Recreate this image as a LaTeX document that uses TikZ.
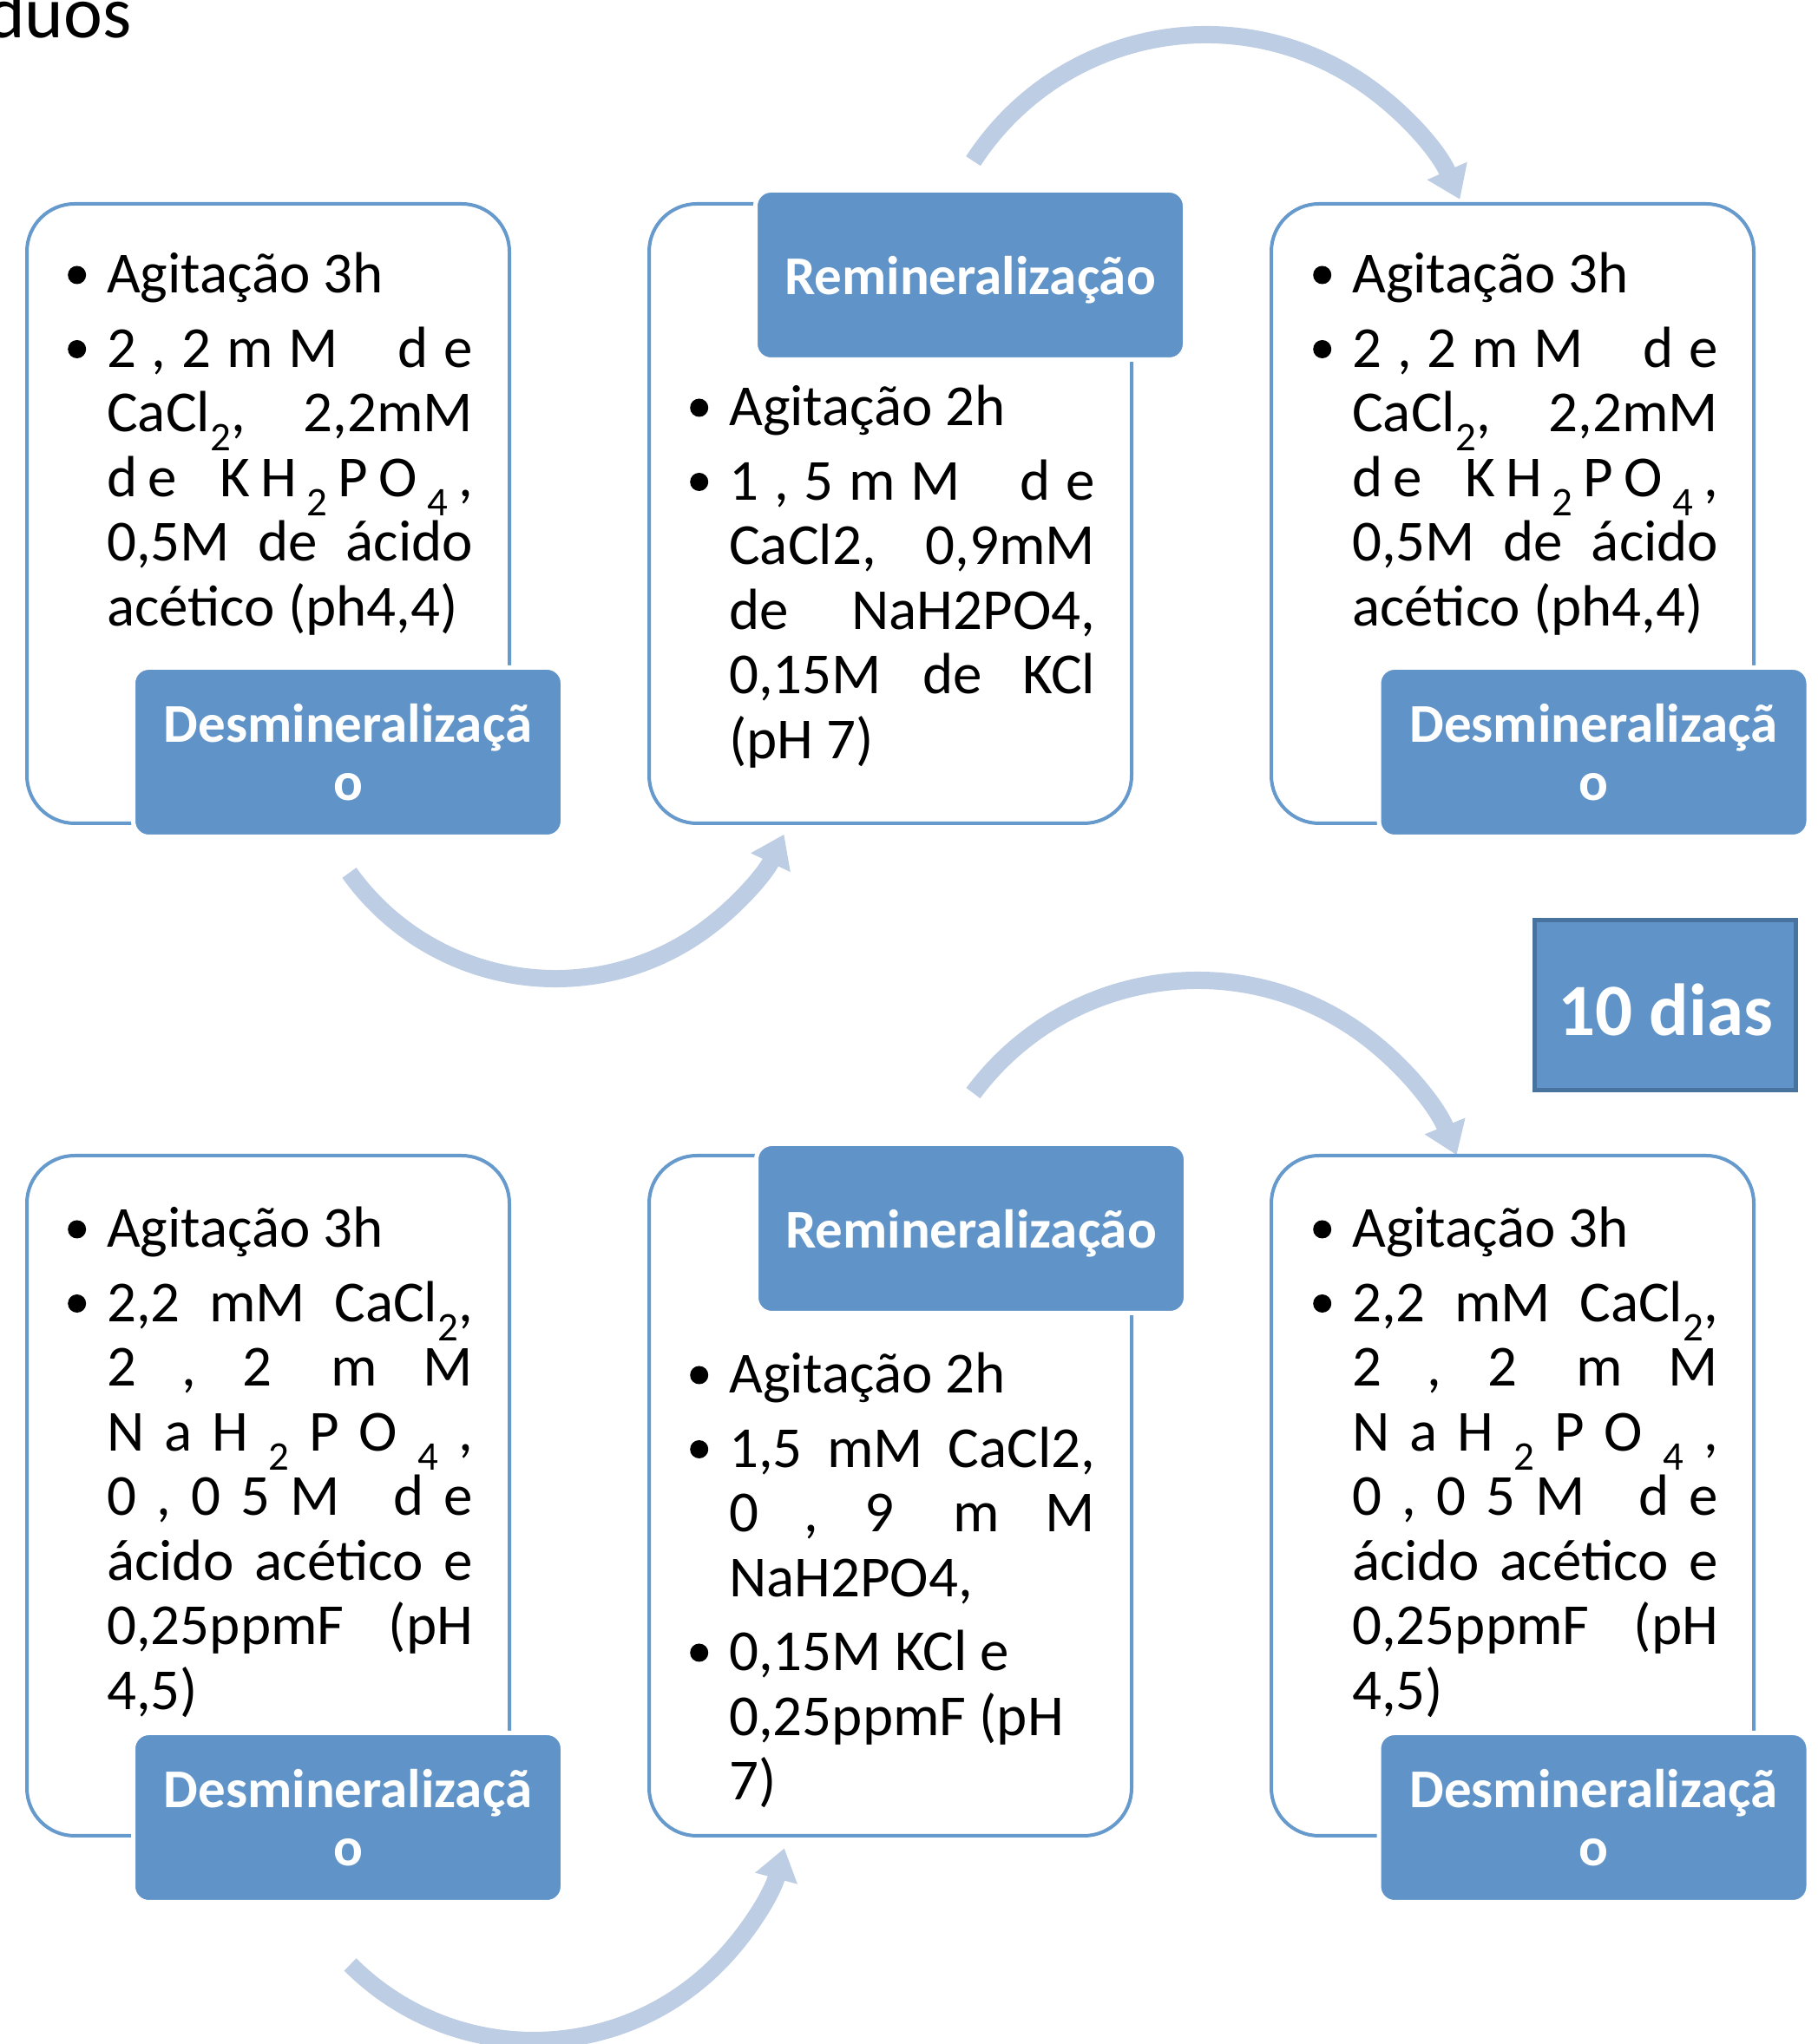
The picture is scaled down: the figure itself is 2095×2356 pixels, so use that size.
\documentclass[tikz,border=0pt]{standalone}
\usepackage{fontspec}
\setmainfont{Carlito}
\usetikzlibrary{arrows.meta}

\definecolor{panelline}{HTML}{6699CC}
\definecolor{tagfill}{HTML}{6094C9}
\definecolor{loopblue}{HTML}{BDCDE3}
\definecolor{daysline}{HTML}{48739F}

% bullet, indent and justified lines
\newcommand{\bul}{\makebox[38pt][l]{\hspace*{-7pt}\raisebox{10.5pt}{\tikz\fill[black] (0,0) circle[radius=10.5pt];}}}
\newcommand{\ind}{\hspace*{38pt}}
\newcommand{\jl}[1]{\makebox[422pt][s]{\frenchspacing\spaceskip=.226em plus 1fil minus .1em\relax #1}}
\newcommand{\chs}{\hfill}
\newcommand{\wds}[1]{\hspace{0pt plus #1fill}\ }

\begin{document}
\begin{tikzpicture}[x=1pt,y=1pt,
  panel/.style={draw=panelline, line width=4pt, fill=white, rounded corners=55pt,
    minimum width=556pt, inner sep=0pt},
  tag/.style={fill=tagfill, draw=white, line width=5pt, rounded corners=18pt,
    minimum width=495pt, minimum height=195pt, inner sep=0pt, text=white,
    font=\bfseries\fontsize{63}{67}\selectfont, align=center},
  remtag/.style={tag, text height=46pt, text depth=0pt},
  body/.style={anchor=base west, inner sep=0pt, text width=470pt, align=flush left,
    font=\fontsize{67}{74.5}\selectfont},
  loop/.style={draw=loopblue, line width=20pt, -{Triangle[width=48pt,length=36pt]}}]
\useasboundingbox (0,0) rectangle (2095,2356);

% title cut at the corner
\node[anchor=base west, inner sep=0pt, font=\fontsize{85}{95}\selectfont] (title) at (-16,2312) {duos};

% the curved arrows
\coordinate (loop1) at (1121.6,2170.3);
\coordinate (loop2) at (402.5,1350);
\coordinate (loop3) at (1121.5,1096);
\coordinate (loop4) at (403.6,91.6);
\draw[loop] (loop1) arc[start angle=147, end angle=24, radius=320];
\draw[loop] (loop2) arc[start angle=215.6, end angle=334.5, radius=292];
\draw[loop] (loop3) arc[start angle=143.4, end angle=22, radius=322];
\draw[loop] (loop4) arc[start angle=225, end angle=345, radius=299];

% top row
\node[panel, minimum height=714pt] (panelA) at (309,1764) {};
\node[panel, minimum height=714pt] (panelB) at (1026,1764) {};
\node[panel, minimum height=714pt] (panelC) at (1743,1764) {};
\node[tag] (tagA) at (401,1489) {Desmineralizaçã\\o};
\node[remtag] (tagB) at (1118,2039) {Remineralização};
\node[tag] (tagC) at (1836.5,1489) {Desmineralizaçã\\o};

\node[body] (txtA) at (85,2018) {\bul Agitação 3h\\[11pt]
\bul\jl{2\chs,\chs2\chs m\chs M\wds{3}d\chs e}\\
\ind\jl{CaCl\textsubscript{2}, 2,2mM}\\
\ind\jl{d\chs e\wds{3}K\chs H\chs\textsubscript{2}\chs P\chs O\chs\textsubscript{4}\chs,}\\
\ind\jl{0,5M de ácido}\\
\ind acético (ph4,4)};

\node[body] (txtB) at (802,1865) {\bul Agitação 2h\\[11pt]
\bul\jl{1\chs,\chs5\chs m\chs M\wds{3}d\chs e}\\
\ind\jl{CaCl2, 0,9mM}\\
\ind\jl{de NaH2PO4,}\\
\ind\jl{0,15M de KCl}\\
\ind (pH 7)};

\node[body] (txtC) at (1520,2018) {\bul Agitação 3h\\[11pt]
\bul\jl{2\chs,\chs2\chs m\chs M\wds{3}d\chs e}\\
\ind\jl{CaCl\textsubscript{2}, 2,2mM}\\
\ind\jl{d\chs e\wds{3}K\chs H\chs\textsubscript{2}\chs P\chs O\chs\textsubscript{4}\chs,}\\
\ind\jl{0,5M de ácido}\\
\ind acético (ph4,4)};

% ten days
\node[draw=daysline, line width=5pt, fill=tagfill, minimum width=301pt, minimum height=196pt,
  inner sep=0pt, text=white, text height=70pt, text depth=0pt,
  font=\bfseries\fontsize{85}{90}\selectfont] (days) at (1919,1197.5) {10 dias};

% bottom row
\node[panel, minimum height=784pt] (panelD) at (309,632) {};
\node[panel, minimum height=784pt] (panelE) at (1026,632) {};
\node[panel, minimum height=784pt] (panelF) at (1743,632) {};
\node[tag] (tagD) at (401,261) {Desmineralizaçã\\o};
\node[remtag] (tagE) at (1119,940) {Remineralização};
\node[tag] (tagF) at (1836.5,261) {Desmineralizaçã\\o};

\node[body] (txtD) at (85,918) {\bul Agitação 3h\\[11pt]
\bul\jl{2,2 mM CaCl\textsubscript{2},}\\
\ind\jl{2\chs,\chs2\wds{1}m\chs M}\\
\ind\jl{N\chs a\chs H\chs\textsubscript{2}\chs P\chs O\chs\textsubscript{4}\chs,}\\
\ind\jl{0\chs,\chs0\chs5\chs M\wds{2}d\chs e}\\
\ind\jl{ácido acético e}\\
\ind\jl{0,25ppmF (pH}\\
\ind 4,5)};

\node[body] (txtE) at (802,750) {\bul Agitação 2h\\[11pt]
\bul\jl{1,5 mM CaCl2,}\\
\ind\jl{0\chs,\chs9\wds{1}m\chs M}\\
\ind NaH2PO4,\\[11pt]
\bul 0,15M KCl e\\
\ind 0,25ppmF (pH\\
\ind 7)};

\node[body] (txtF) at (1520,918) {\bul Agitação 3h\\[11pt]
\bul\jl{2,2 mM CaCl\textsubscript{2},}\\
\ind\jl{2\chs,\chs2\wds{1}m\chs M}\\
\ind\jl{N\chs a\chs H\chs\textsubscript{2}\chs P\chs O\chs\textsubscript{4}\chs,}\\
\ind\jl{0\chs,\chs0\chs5\chs M\wds{2}d\chs e}\\
\ind\jl{ácido acético e}\\
\ind\jl{0,25ppmF (pH}\\
\ind 4,5)};
\end{tikzpicture}
\end{document}
